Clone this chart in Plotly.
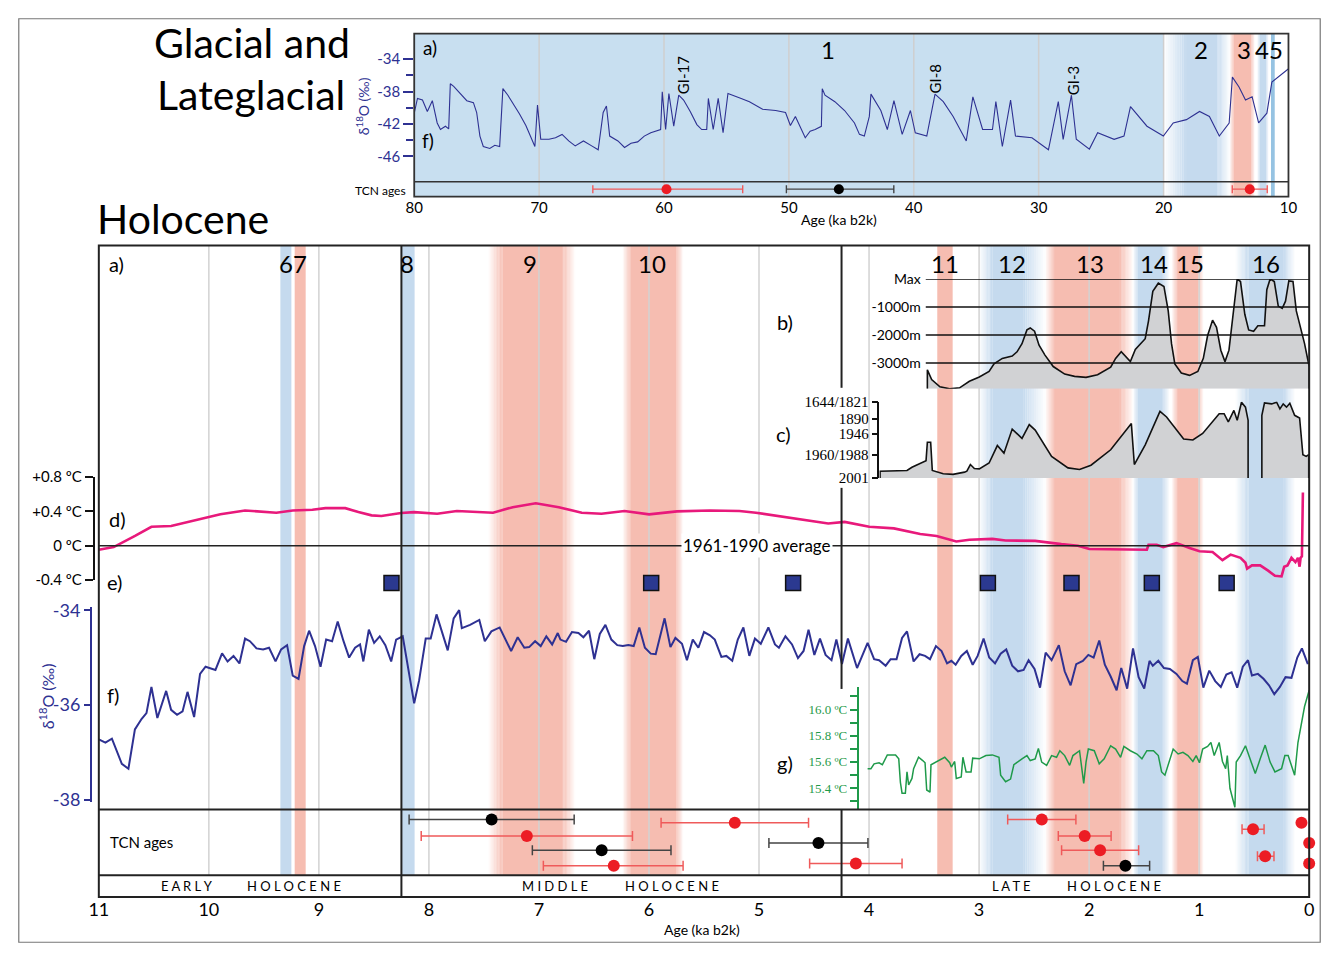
import plotly.graph_objects as go

# ======================= DATA =======================
# --- Glacial / Lateglacial panel: f) delta18O (permil) vs age (ka b2k)
gl_age = [80.00, 79.74, 79.34, 78.95, 78.55, 78.16, 77.90, 77.50, 77.24, 77.11,
          76.84, 76.32, 75.79, 75.26, 75.00, 74.74, 74.47, 73.95, 73.55, 73.16,
          72.90, 72.50, 71.98, 71.58, 71.06, 70.53, 70.34, 70.13, 69.87, 69.21,
          68.69, 68.16, 67.63, 67.11, 66.45, 65.79, 65.27, 64.87, 64.61, 64.35,
          63.69, 63.16, 62.64, 62.11, 61.58, 61.06, 60.66, 60.27, 60.14, 59.87,
          59.61, 59.22, 58.82, 58.43, 57.90, 57.37, 56.98, 56.58, 56.45, 56.06,
          55.66, 55.27, 54.88, 54.48, 53.82, 53.16, 52.11, 51.06, 50.27, 49.88,
          49.48, 48.69, 48.30, 47.90, 47.40, 47.33, 47.11, 46.32, 45.54, 44.75,
          44.35, 43.96, 43.56, 43.43, 42.64, 42.12, 41.59, 40.93, 40.27, 39.88,
          38.96, 38.30, 37.64, 36.85, 35.80, 35.27, 34.49, 33.70, 33.43, 32.91,
          32.25, 31.86, 30.54, 29.22, 28.43, 28.04, 27.38, 26.99, 25.94, 25.28,
          23.96, 23.17, 22.65, 21.33, 20.02, 19.23, 18.17, 17.12, 16.33, 15.54,
          14.75, 14.49, 13.96, 13.44, 12.91, 12.39, 11.73, 11.33, 10.81, 10.02]
gl_d18o = [-40.67, -38.85, -39.05, -40.46, -39.13, -41.88, -42.69, -42.28, -42.61, -37.03,
           -37.35, -38.24, -39.13, -39.37, -40.59, -43.50, -44.79, -45.03, -44.63, -44.79,
           -37.64, -38.45, -39.66, -40.75, -42.20, -44.10, -44.79, -39.66, -43.90, -43.90,
           -43.70, -43.29, -44.10, -44.71, -44.10, -44.71, -45.19, -40.59, -39.78, -43.50,
           -44.10, -44.91, -44.38, -44.22, -43.50, -43.09, -42.89, -42.69, -38.04, -42.69,
           -38.24, -42.28, -38.45, -39.05, -40.46, -42.08, -42.69, -42.69, -38.85, -42.69,
           -38.85, -43.09, -38.24, -38.45, -38.85, -39.25, -40.18, -40.34, -40.59, -42.20,
           -41.07, -43.70, -42.89, -42.69, -42.30, -37.64, -38.45, -39.25, -40.34, -41.88,
           -43.29, -43.50, -41.07, -38.32, -40.34, -42.69, -39.13, -43.29, -40.34, -43.09,
           -43.50, -38.32, -39.25, -41.07, -44.10, -38.65, -42.69, -42.69, -39.25, -44.79,
           -39.05, -43.50, -43.70, -45.19, -39.25, -43.90, -38.45, -43.90, -45.11, -43.09,
           -43.90, -43.50, -39.86, -42.28, -43.50, -41.88, -41.47, -40.46, -41.07, -43.50,
           -41.88, -36.22, -37.43, -39.05, -38.65, -41.88, -40.67, -36.83, -36.22, -35.21]
gl_ticks = [80, 70, 60, 50, 40, 30, 20, 10]
gl_grid = [70, 60, 50, 40, 30, 20]
gl_yticks = [-34, -38, -42, -46]
gl_yticktext = ['-34', '-38', '-42', '-46']
gl_yminor = [-36, -40, -44]
gl_tcn_age = [59.8, 46.0, 13.1]
gl_tcn_older = [5.9, 4.2, 1.4]
gl_tcn_younger = [6.1, 4.4, 1.4]
gl_tcn_kind = ['red', 'black', 'red']
# (label, older, younger, kind, fade_old, fade_young)
gl_bands = [('1', 80.0, 20.0, 'bg', 0, 0),
            ('2', 20.0, 14.7, 'cold', 1.8, 1.0),
            ('3', 14.7, 12.7, 'warm', 0.3, 0.3),
            ('4', 12.5, 11.6, 'cold', 0.2, 0.2),
            ('5', 11.4, 11.1, 'cold5', 0, 0)]
gl_label_age = [46.85, 17.0, 13.6, 12.12, 11.02]
gi_age = [58.45, 38.33, 27.3]
gi_text = ['GI-17', 'GI-8', 'GI-3']

# --- Holocene f) delta18O
ho_age = [11.000, 10.940, 10.881, 10.791, 10.731, 10.672, 10.612, 10.567, 10.522, 10.468,
          10.388, 10.343, 10.289, 10.239, 10.194, 10.134, 10.080, 10.030, 9.940, 9.880,
          9.830, 9.776, 9.722, 9.671, 9.627, 9.567, 9.507, 9.453, 9.394, 9.343,
          9.289, 9.238, 9.185, 9.134, 9.089, 9.035, 8.985, 8.934, 8.880, 8.829,
          8.776, 8.725, 8.671, 8.626, 8.596, 8.546, 8.498, 8.447, 8.396, 8.343,
          8.298, 8.238, 8.134, 8.089, 8.029, 7.984, 7.931, 7.829, 7.775, 7.725,
          7.701, 7.626, 7.542, 7.492, 7.432, 7.357, 7.253, 7.193, 7.133, 7.089,
          7.035, 6.984, 6.933, 6.880, 6.829, 6.805, 6.754, 6.700, 6.641, 6.596,
          6.545, 6.497, 6.447, 6.396, 6.342, 6.288, 6.238, 6.187, 6.139, 6.088,
          6.037, 5.984, 5.939, 5.858, 5.805, 5.760, 5.700, 5.655, 5.602, 5.551,
          5.500, 5.446, 5.402, 5.342, 5.297, 5.243, 5.193, 5.142, 5.088, 5.037,
          4.984, 4.915, 4.855, 4.819, 4.760, 4.700, 4.646, 4.595, 4.550, 4.497,
          4.446, 4.395, 4.341, 4.297, 4.246, 4.192, 4.109, 4.013, 3.954, 3.909,
          3.849, 3.804, 3.750, 3.700, 3.655, 3.595, 3.541, 3.491, 3.446, 3.392,
          3.341, 3.291, 3.252, 3.213, 3.162, 3.111, 3.058, 3.013, 2.959, 2.908,
          2.855, 2.804, 2.753, 2.699, 2.646, 2.595, 2.550, 2.496, 2.446, 2.395,
          2.341, 2.275, 2.222, 2.168, 2.117, 2.057, 2.007, 1.959, 1.908, 1.857,
          1.804, 1.750, 1.708, 1.654, 1.601, 1.550, 1.499, 1.451, 1.421, 1.371,
          1.320, 1.266, 1.206, 1.153, 1.111, 1.057, 1.012, 0.962, 0.908, 0.854,
          0.803, 0.753, 0.705, 0.654, 0.603, 0.556, 0.520, 0.466, 0.415, 0.365,
          0.317, 0.266, 0.215, 0.161, 0.108, 0.066, 0.012]
ho_d18o = [-36.722, -36.791, -36.708, -37.240, -37.343, -36.514, -36.293, -36.169, -35.616, -36.273,
           -35.699, -36.100, -36.203, -36.134, -35.720, -36.252, -35.340, -35.188, -35.257, -34.905,
           -35.077, -34.960, -35.119, -34.594, -34.649, -34.801, -34.822, -34.787, -35.077, -34.822,
           -34.732, -35.375, -35.444, -34.753, -34.428, -34.753, -35.188, -34.615, -34.649, -34.235,
           -34.649, -34.995, -34.787, -34.718, -35.077, -34.407, -34.684, -34.546, -34.732, -35.077,
           -34.615, -34.546,
           -35.962, -35.478, -34.594, -34.594, -34.083, -34.843, -34.166, -33.993,
           -34.373, -34.304, -34.200, -34.649, -34.442, -34.359, -34.856, -34.566, -34.787, -34.774,
           -34.649, -34.753, -34.546, -34.718, -34.477, -34.615, -34.663, -34.456, -34.477, -34.566,
           -34.428, -35.029, -34.497, -34.304, -34.615, -34.732, -34.753, -34.732, -34.753, -34.359,
           -34.787, -34.912, -34.925, -34.166, -34.774, -34.580, -34.704, -35.050, -34.615, -34.787,
           -34.456, -34.525, -34.615, -34.981, -34.960, -35.064, -34.615, -34.359, -34.960, -34.594,
           -34.704, -34.359, -34.718, -34.787, -34.546, -34.718, -35.008, -34.856, -34.407, -34.939,
           -34.594, -34.939, -35.050, -34.615, -35.133, -34.594, -35.216, -34.684,
           -35.029, -35.050, -35.167, -35.029, -35.029, -34.580, -34.442, -35.078, -34.925, -34.960,
           -35.029, -34.753,
           -34.856, -35.119, -35.064, -35.147, -34.960, -34.856, -35.147, -34.960, -34.594, -34.995,
           -35.119, -34.912, -34.822, -35.167, -35.285, -35.257, -35.050, -35.236, -35.630, -34.891,
           -35.050, -34.732, -35.285, -35.582, -35.133, -35.064, -34.939, -34.995, -34.635, -35.147,
           -35.395, -35.686, -35.216, -35.651, -34.801, -35.409, -35.651, -35.064, -35.167, -35.064,
           -35.216, -35.236, -35.340, -35.492, -35.547, -35.050, -34.981, -35.630, -35.271, -35.492,
           -35.616, -35.354, -35.305, -35.630, -35.188, -35.050, -35.375, -35.340, -35.444, -35.582,
           -35.768, -35.616, -35.409, -35.423, -34.995, -34.801, -35.133]
ho_yticks = [-34, -36, -38]
ho_yticktext = ['-34', '-36', '-38']

# --- d) temperature anomaly relative to 1961-1990 (deg C)
temp_age = [11.000, 10.865, 10.671, 10.522, 10.343, 10.134, 9.895, 9.671, 9.567, 9.387,
            9.238, 9.059, 8.940, 8.760, 8.641, 8.521, 8.432, 8.253, 8.134, 7.925,
            7.746, 7.417, 7.238, 7.029, 6.820, 6.611, 6.432, 6.223, 5.999, 5.745,
            5.446, 5.178, 5.028, 4.730, 4.371, 4.222, 3.998, 3.774, 3.535, 3.386,
            3.207, 3.088, 2.879, 2.759, 2.490, 2.252, 2.102, 1.998, 1.714, 1.475,
            1.460, 1.386, 1.326, 1.206, 1.087, 0.997, 0.878, 0.788, 0.714, 0.624,
            0.579, 0.564, 0.520, 0.445, 0.370, 0.311, 0.251, 0.227, 0.197, 0.161,
            0.125, 0.102, 0.087, 0.078, 0.066, 0.057]
temp_anom = [-0.046, -0.016, 0.114, 0.221, 0.229, 0.290, 0.366, 0.411, 0.404, 0.385,
             0.411, 0.419, 0.438, 0.438, 0.392, 0.354, 0.347, 0.381, 0.392, 0.373,
             0.404, 0.385, 0.449, 0.495, 0.449, 0.385, 0.373, 0.404, 0.366, 0.400,
             0.411, 0.404, 0.385, 0.324, 0.259, 0.278, 0.221, 0.202, 0.137, 0.114,
             0.050, 0.069, 0.080, 0.061, 0.057, 0.019, 0.000, -0.038, -0.046, -0.046,
             0.011, 0.011, -0.015, 0.030, -0.027, -0.065, -0.072, -0.168, -0.103, -0.141,
             -0.198, -0.267, -0.229, -0.229, -0.293, -0.351, -0.358, -0.244, -0.229, -0.141,
             -0.191, -0.141, -0.244, -0.141, -0.122, 0.621]
temp_ticks = [-0.4, 0.0, 0.4, 0.8]
temp_ticktext = ['-0.4 ºC', '0 ºC', '+0.4 ºC', '+0.8 ºC']

# --- e) events
e_age = [8.34, 5.98, 4.69, 2.92, 2.16, 1.43, 0.75]

# --- b) glacier extent (m relative to max)
b_age = [3.470, 3.431, 3.356, 3.267, 3.177, 3.088, 2.998, 2.909, 2.864, 2.789,
         2.699, 2.655, 2.610, 2.565, 2.535, 2.496, 2.455, 2.401, 2.326, 2.222,
         2.132, 2.028, 1.923, 1.804, 1.759, 1.708, 1.669, 1.625, 1.580, 1.535,
         1.490, 1.460, 1.421, 1.371, 1.320, 1.281, 1.251, 1.221, 1.162, 1.087,
         1.012, 0.962, 0.923, 0.878, 0.842, 0.803, 0.765, 0.729, 0.690, 0.654,
         0.624, 0.585, 0.550, 0.505, 0.466, 0.406, 0.385, 0.355, 0.317, 0.281,
         0.245, 0.215, 0.185, 0.147, 0.117, 0.072, 0.042, 0.000]
b_depth = [-3241, -3590, -3847, -3917, -3882, -3649, -3497, -3299, -3031, -2833,
           -2751, -2599, -2308, -1818, -1749, -1865, -2366, -2716, -3124, -3392,
           -3474, -3509, -3415, -3147, -2833, -2599, -2751, -2949, -2518, -2308,
           -2133, -1492, -443, -152, -268, -1142, -2308, -3031, -3357, -3439,
           -3299, -2833, -2017, -1469, -1725, -2541, -2949, -2541, -1201, 0,
           -93, -1259, -1818, -1865, -1667, -1667, -385, 0, -93, -968,
           -1049, -793, -70, -93, -1142, -1865, -2308, -3124]
b_levels = [0, -1000, -2000, -3000]
b_level_text = ['Max', '-1000m', '-2000m', '-3000m']
b_floor = -3917

# --- c) glacier extent by dated year (relative height units)
c1_age = [3.900, 3.655, 3.610, 3.482, 3.470, 3.440, 3.425, 3.326, 3.237, 3.132,
          3.111, 3.079, 3.043, 2.998, 2.909, 2.834, 2.774, 2.699, 2.610, 2.544,
          2.490, 2.341, 2.192, 2.087, 1.983, 1.804, 1.616, 1.589, 1.490, 1.356,
          1.296, 1.141, 1.057, 0.968, 0.818, 0.773, 0.735, 0.684, 0.654, 0.615,
          0.579, 0.555]
c1_ext = [7.0, 7.7, 11.0, 17.7, 36.3, 36.3, 7.7, 4.3, 3.7, 6.0,
          7.0, 13.7, 9.7, 9.3, 15.3, 33.0, 25.3, 49.7, 40.3, 54.3,
          48.7, 22.0, 10.3, 8.7, 13.0, 28.7, 55.3, 13.7, 33.7, 67.7,
          62.0, 39.7, 38.7, 45.3, 65.3, 65.3, 57.0, 68.7, 58.7, 77.0,
          72.0, 58.7]
c2_age = [0.430, 0.406, 0.341, 0.296, 0.266, 0.236, 0.206, 0.176, 0.132, 0.087,
          0.057, 0.027, 0.004]
c2_ext = [63.7, 76.3, 75.3, 77.0, 70.3, 75.3, 72.0, 76.0, 63.7, 61.0,
          23.7, 22.0, 23.7]
c_tick_vals = [0, 23.5, 45, 60, 77.7]
c_tick_text = ['2001', '1960/1988', '1946', '1890', '1644/1821']

# --- g) temperature (deg C)
g_age = [4.013, 3.983, 3.954, 3.909, 3.879, 3.834, 3.759, 3.730, 3.715, 3.700,
         3.670, 3.655, 3.640, 3.610, 3.595, 3.550, 3.512, 3.491, 3.476, 3.446,
         3.437, 3.386, 3.341, 3.312, 3.267, 3.252, 3.222, 3.207, 3.162, 3.147,
         3.118, 3.073, 3.058, 2.998, 2.938, 2.879, 2.819, 2.804, 2.759, 2.714,
         2.684, 2.655, 2.610, 2.565, 2.535, 2.490, 2.461, 2.431, 2.386, 2.341,
         2.296, 2.266, 2.222, 2.177, 2.147, 2.087, 2.066, 2.049, 2.028, 2.007,
         1.953, 1.908, 1.863, 1.804, 1.759, 1.714, 1.684, 1.625, 1.565, 1.520,
         1.475, 1.415, 1.371, 1.341, 1.311, 1.281, 1.236, 1.191, 1.147, 1.102,
         1.057, 1.027, 0.997, 0.968, 0.923, 0.893, 0.863, 0.818, 0.788, 0.759,
         0.744, 0.720, 0.699, 0.675, 0.663, 0.624, 0.579, 0.535, 0.490, 0.445,
         0.400, 0.355, 0.311, 0.251, 0.221, 0.191, 0.132, 0.102, 0.072, 0.042,
         0.000]
g_temp = [15.548, 15.548, 15.585, 15.593, 15.578, 15.653, 15.653, 15.623, 15.443, 15.360,
          15.360, 15.523, 15.423, 15.473, 15.548, 15.635, 15.610, 15.593, 15.385, 15.368,
          15.578, 15.603, 15.623, 15.635, 15.593, 15.560, 15.603, 15.473, 15.485, 15.635,
          15.523, 15.523, 15.628, 15.623, 15.648, 15.653, 15.635, 15.498, 15.448, 15.468,
          15.578, 15.598, 15.623, 15.648, 15.610, 15.623, 15.703, 15.598, 15.573, 15.648,
          15.635, 15.685, 15.648, 15.573, 15.648, 15.685, 15.548, 15.435, 15.598, 15.698,
          15.685, 15.585, 15.623, 15.723, 15.698, 15.635, 15.718, 15.685, 15.660, 15.623,
          15.685, 15.685, 15.648, 15.523, 15.498, 15.573, 15.698, 15.660, 15.673, 15.648,
          15.603, 15.648, 15.593, 15.698, 15.718, 15.748, 15.648, 15.748, 15.603, 15.548,
          15.648, 15.398, 15.323, 15.253, 15.598, 15.648, 15.723, 15.623, 15.510, 15.623,
          15.728, 15.598, 15.523, 15.548, 15.648, 15.648, 15.498, 15.748, 15.873, 16.023,
          16.148]
g_ticks = [15.4, 15.6, 15.8, 16.0]
g_ticktext = ['15.4 ºC', '15.6 ºC', '15.8 ºC', '16.0 ºC']
g_minor = [15.3, 15.5, 15.7, 15.9, 16.1]

# --- Holocene TCN ages (ka), errors, lanes within the row (0 = top, 1 = bottom)
tcn_age = [7.43, 7.11, 6.43, 6.32, 5.22, 4.46, 4.12, 2.43, 2.04, 1.90, 1.67, 0.51, 0.40, 0.07, 0.0, 0.0]
tcn_older = [0.75, 0.96, 0.63, 0.64, 0.67, 0.45, 0.42, 0.31, 0.24, 0.35, 0.20, 0.10, 0.07, 0, 0, 0]
tcn_younger = [0.75, 0.96, 0.63, 0.63, 0.67, 0.45, 0.42, 0.31, 0.24, 0.35, 0.22, 0.10, 0.08, 0, 0, 0]
tcn_lane = [0.15, 0.40, 0.62, 0.855, 0.20, 0.51, 0.82, 0.15, 0.40, 0.62, 0.855, 0.30, 0.71, 0.20, 0.51, 0.82]
tcn_kind = ['black', 'red', 'black', 'red', 'red', 'black', 'red', 'red', 'red', 'red', 'black',
            'red', 'red', 'red', 'red', 'red']

# --- Holocene climate event bands
ho_bands = [('6', 9.35, 9.25, 'cold', 0, 0),
            ('7', 9.22, 9.12, 'warm', 0, 0),
            ('8', 8.25, 8.13, 'cold', 0, 0),
            ('9', 7.46, 6.67, 'warm', 0.13, 0.12),
            ('10', 6.24, 5.69, 'warm', 0.07, 0.06),
            ('11', 3.38, 3.24, 'warm', 0, 0),
            ('12', 3.00, 2.40, 'cold', 0.12, 0.20),
            ('13', 2.40, 1.60, 'warm', 0.09, 0.12),
            ('14', 1.60, 1.27, 'cold', 0.04, 0.06),
            ('15', 1.25, 0.96, 'warm', 0.05, 0.05),
            ('16', 0.67, 0.13, 'cold', 0.12, 0.10)]
ho_label_age = [9.30, 9.17, 8.20, 7.08, 5.97, 3.31, 2.70, 1.99, 1.41, 1.08, 0.39]
ho_ticks = [11, 10, 9, 8, 7, 6, 5, 4, 3, 2, 1, 0]
ho_grid = [10, 9, 8, 7, 6, 5, 4, 3, 2, 1]
period_bounds = [8.25, 4.25]

# ======================= STYLE / LAYOUT =======================
# The page has an 8 px body margin; the figure is sized so the page is exactly 1338 x 959.
OX, OY = 8, 8
W, H = 1322, 943
def px(x): return (x - OX) / W
def py(y): return 1 - (y - OY) / H

FONT = "Lato, 'Open Sans', sans-serif"
SERIF = "'Liberation Serif', 'DejaVu Serif', serif"
NAVY = '#2e3192'
MAGENTA = '#e8197b'
GREEN = '#1f9a4a'
RED = '#ec1c24'
BAND_RGB = {'cold': (197, 218, 238), 'warm': (246, 189, 177), 'bg': (200, 223, 240),
            'cold5': (150, 195, 226)}

HX0, HX1, HAGE = 90, 1318, 11.0
def ho_age_at(pxl): return HAGE - (pxl - HX0) * HAGE / (HX1 - HX0)

shapes = []
annotations = []

def band_shapes(older, younger, rgb, fade_old, fade_young, xref, y0, y1, n=10):
    r, g, b = rgb
    out = [dict(type='rect', xref=xref, yref='paper', x0=older - fade_old, x1=younger + fade_young,
                y0=y0, y1=y1, fillcolor=f'rgb({r},{g},{b})', line=dict(width=0), layer='below')]
    for i in range(n):
        a = (i + 0.5) / n
        if fade_old > 0:
            out.append(dict(type='rect', xref=xref, yref='paper',
                            x0=older - fade_old * i / n, x1=older - fade_old * (i + 1) / n,
                            y0=y0, y1=y1, fillcolor=f'rgba({r},{g},{b},{a:.3f})',
                            line=dict(width=0), layer='below'))
        if fade_young > 0:
            out.append(dict(type='rect', xref=xref, yref='paper',
                            x0=younger + fade_young * i / n, x1=younger + fade_young * (i + 1) / n,
                            y0=y0, y1=y1, fillcolor=f'rgba({r},{g},{b},{a:.3f})',
                            line=dict(width=0), layer='below'))
    return out

# ---- top panel bands, grid, frame
for (lab, o, yng, kind, fo, fy) in gl_bands:
    shapes += band_shapes(o, yng, BAND_RGB[kind], fo, fy, 'x', py(190), py(24))
for gx in gl_grid:
    shapes.append(dict(type='line', xref='x', yref='paper', x0=gx, x1=gx, y0=py(190), y1=py(24),
                       line=dict(color='#cfcfcf', width=1.5), layer='below'))
shapes.append(dict(type='rect', xref='x domain', yref='paper', x0=0, x1=1, y0=py(190), y1=py(24),
                   line=dict(color='#333', width=1.8), layer='above'))
shapes.append(dict(type='line', xref='x domain', yref='paper', x0=0, x1=1, y0=py(175), y1=py(175),
                   line=dict(color='#333', width=1.5), layer='above'))

# ---- Holocene bands, grid, frame
for (lab, o, yng, kind, fo, fy) in ho_bands:
    shapes += band_shapes(o, yng, BAND_RGB[kind], fo, fy, 'x2', py(882), py(240))
for gx in ho_grid:
    shapes.append(dict(type='line', xref='x2', yref='paper', x0=gx, x1=gx, y0=py(882), y1=py(240),
                       line=dict(color='#d2d2d2', width=1.5), layer='below'))
shapes.append(dict(type='rect', xref='x2 domain', yref='paper', x0=0, x1=1, y0=py(904), y1=py(240),
                   line=dict(color='#222', width=2), layer='above'))
for yy in (815, 882):
    shapes.append(dict(type='line', xref='x2 domain', yref='paper', x0=0, x1=1, y0=py(yy), y1=py(yy),
                       line=dict(color='#222', width=2), layer='above'))
shapes.append(dict(type='line', xref='x2', yref='paper', x0=period_bounds[0], x1=period_bounds[0],
                   y0=py(904), y1=py(240), line=dict(color='#222', width=2), layer='above'))
for (ya, yb) in [(240, 385), (487, 692), (815, 904)]:
    shapes.append(dict(type='line', xref='x2', yref='paper', x0=period_bounds[1], x1=period_bounds[1],
                       y0=py(yb), y1=py(ya), line=dict(color='#222', width=2), layer='above'))
shapes.append(dict(type='line', xref='x2 domain', yref='y4', x0=0, x1=1, y0=0, y1=0,
                   line=dict(color='#222', width=1.6), layer='above'))
for lv in b_levels:
    shapes.append(dict(type='line', xref='x3 domain', yref='y6', x0=0, x1=1, y0=lv, y1=lv,
                       line=dict(color='#111', width=1.6), layer='above'))
# outer frame
shapes.append(dict(type='rect', xref='paper', yref='paper', x0=0.0006, x1=0.9994, y0=0.0008, y1=0.9992,
                   line=dict(color='#777', width=1.2), layer='above'))

fig = go.Figure()

fig.add_trace(go.Scatter(x=gl_age, y=gl_d18o, xaxis='x', yaxis='y', mode='lines',
                         line=dict(color=NAVY, width=1.1), hoverinfo='skip'))
for kind, col, ecol in [('red', RED, '#ef5a5a'), ('black', 'black', '#444')]:
    idx = [i for i, k in enumerate(gl_tcn_kind) if k == kind]
    fig.add_trace(go.Scatter(x=[gl_tcn_age[i] for i in idx], y=[0.5] * len(idx), xaxis='x', yaxis='y2',
                             mode='markers', marker=dict(color=col, size=10), cliponaxis=False,
                             error_x=dict(type='data', symmetric=False,
                                          array=[gl_tcn_older[i] for i in idx],
                                          arrayminus=[gl_tcn_younger[i] for i in idx],
                                          color=ecol, thickness=1.4, width=4),
                             hoverinfo='skip'))

fig.add_trace(go.Scatter(x=[b_age[0]] + b_age + [b_age[-1]], y=[b_floor] + b_depth + [b_floor],
                         xaxis='x3', yaxis='y6', mode='lines', fill='toself', fillcolor='#d1d2d4',
                         line=dict(color='#111', width=1.6), hoverinfo='skip'))
for ca, ce in [(c1_age, c1_ext), (c2_age, c2_ext)]:
    fig.add_trace(go.Scatter(x=[ca[0]] + ca + [ca[-1]], y=[0] + ce + [0], xaxis='x4', yaxis='y7',
                             mode='lines', fill='toself', fillcolor='#d1d2d4',
                             line=dict(color='#111', width=1.6), hoverinfo='skip'))

fig.add_trace(go.Scatter(x=temp_age, y=temp_anom, xaxis='x2', yaxis='y4', mode='lines',
                         line=dict(color=MAGENTA, width=2.6), hoverinfo='skip'))
fig.add_trace(go.Scatter(x=e_age, y=[0.5] * len(e_age), xaxis='x2', yaxis='y5', mode='markers',
                         marker=dict(symbol='square', size=15, color='#2b3990',
                                     line=dict(color='#111', width=1.5)),
                         cliponaxis=False, hoverinfo='skip'))
fig.add_trace(go.Scatter(x=ho_age, y=ho_d18o, xaxis='x2', yaxis='y3', mode='lines',
                         line=dict(color=NAVY, width=2), hoverinfo='skip'))
fig.add_trace(go.Scatter(x=g_age, y=g_temp, xaxis='x2', yaxis='y8', mode='lines',
                         line=dict(color=GREEN, width=1.5), hoverinfo='skip'))
for kind, col, ecol in [('red', RED, '#ef5a5a'), ('black', 'black', '#444')]:
    idx = [i for i, k in enumerate(tcn_kind) if k == kind]
    fig.add_trace(go.Scatter(x=[tcn_age[i] for i in idx], y=[tcn_lane[i] for i in idx],
                             xaxis='x2', yaxis='y9', mode='markers',
                             marker=dict(color=col, size=12), cliponaxis=False,
                             error_x=dict(type='data', symmetric=False,
                                          array=[tcn_older[i] for i in idx],
                                          arrayminus=[tcn_younger[i] for i in idx],
                                          color=ecol, thickness=1.5, width=5),
                             hoverinfo='skip'))

# ======================= ANNOTATIONS =======================
def ann(text, x, y, size=14, color='black', xanchor='center', yanchor='middle', family=FONT, **kw):
    d = dict(text=text, x=px(x), y=py(y), xref='paper', yref='paper', showarrow=False,
             font=dict(size=size, color=color, family=family), xanchor=xanchor, yanchor=yanchor)
    d.update(kw)
    annotations.append(d)

def data_ann(text, xval, xref, y, size=24, angle=0):
    annotations.append(dict(text=text, x=xval, y=py(y), xref=xref, yref='paper', showarrow=False,
                            xanchor='center', yanchor='middle', textangle=angle,
                            font=dict(size=size, family=FONT, color='black')))

ann('Glacial and', 245, 33, size=41)
ann('Lateglacial', 244, 86, size=41)
ann('Holocene', 175, 212, size=41)

ann('a)', 426, 38, size=19)
ann('f)', 424, 133, size=19)
ann('TCN ages', 404, 184, size=12, xanchor='right')
ann('δ<sup>18</sup>O (‰)', 357, 98, size=14, color=NAVY, textangle=-90)
ann('Age (ka b2k)', 841, 213, size=14)
for lab_age, band in zip(gl_label_age, gl_bands):
    data_ann(band[0], lab_age, 'x', 40, size=24)
for ga, gt, gy in zip(gi_age, gi_text, [66, 70, 72]):
    data_ann(gt, ga, 'x', gy, size=15, angle=-90)

ann('a)', 108, 259, size=20)
ann('b)', 786, 318, size=20)
ann('c)', 785, 432, size=20)
ann('d)', 109, 519, size=20)
ann('e)', 106, 583, size=20)
ann('f)', 104, 698, size=20)
ann('g)', 786, 767, size=20)
ann('TCN ages', 99, 848, size=15, xanchor='left')
ann('δ<sup>18</sup>O (‰)', 37, 700, size=16, color=NAVY, textangle=-90)
ann('1961-1990 average', 758, 546, size=17, bgcolor='white', borderpad=1)
ann('Age (ka b2k)', 702, 937, size=14)
for lab_age, band in zip(ho_label_age, ho_bands):
    data_ann(band[0], lab_age, 'x2', 258, size=24)
ann('E A R L Y', 179, 893, size=13)
ann('H O L O C E N E', 288, 893, size=13)
ann('M I D D L E', 553, 893, size=13)
ann('H O L O C E N E', 672, 893, size=13)
ann('L A T E', 1016, 893, size=13)
ann('H O L O C E N E', 1120, 893, size=13)

# ======================= AXES =======================
x3_lo = ho_age_at(929)
x4_lo = ho_age_at(882)
g_lo = 16.0 - (814 - 713) / 133.3
g_hi = 16.0 + (713 - 690) / 133.3
f_hi = -34 + (612 - 608) / 48.25
f_lo = -38 - (807 - 805) / 48.25

noax = dict(showgrid=False, zeroline=False, showline=False)

fig.update_layout(
    width=W, height=H, margin=dict(l=0, r=0, t=0, b=0),
    paper_bgcolor='white', plot_bgcolor='rgba(0,0,0,0)', showlegend=False,
    font=dict(family=FONT, color='black', size=14),
    shapes=shapes, annotations=annotations,
    xaxis=dict(domain=[px(410), px(1297)], range=[80, 10], anchor='y2', tickvals=gl_ticks,
               ticks='', tickfont=dict(size=15), **noax),
    yaxis=dict(domain=[py(175), py(24)], range=[-49.15, -30.85], anchor='x',
               tickvals=gl_yticks, ticktext=gl_yticktext, ticks='outside', ticklen=10, tickwidth=1.6,
               tickcolor=NAVY, tickfont=dict(size=15, color=NAVY),
               minor=dict(tickvals=gl_yminor, ticks='outside', ticklen=7, tickwidth=1.6,
                          tickcolor=NAVY), **noax),
    yaxis2=dict(domain=[py(190), py(175)], range=[0, 1], anchor='x', visible=False),
    xaxis2=dict(domain=[px(HX0), px(HX1)], range=[HAGE, 0], anchor='free', position=py(904),
                tickvals=ho_ticks, ticks='', tickfont=dict(size=18), **noax),
    yaxis3=dict(domain=[py(807), py(608)], range=[f_lo, f_hi], anchor='free', position=px(82),
                tickvals=ho_yticks, ticktext=ho_yticktext, ticks='outside', ticklen=6, tickwidth=1.8,
                tickcolor=NAVY, tickfont=dict(size=18, color=NAVY), showline=True, linecolor=NAVY,
                linewidth=1.8, showgrid=False, zeroline=False),
    yaxis4=dict(domain=[py(581), py(476)], range=[-0.4, 0.8], anchor='free', position=px(85),
                tickvals=temp_ticks, ticktext=temp_ticktext, ticks='outside', ticklen=8, tickwidth=2.2,
                tickcolor='#111', tickfont=dict(size=15), showline=True, linecolor='#111', linewidth=2.2,
                showgrid=False, zeroline=False),
    yaxis5=dict(domain=[py(600), py(568)], range=[0, 1], anchor='x2', visible=False),
    xaxis3=dict(domain=[px(929), px(HX1)], range=[x3_lo, 0], anchor='y6', visible=False),
    yaxis6=dict(domain=[py(386), py(274)], range=[b_floor, 0], anchor='x3', tickvals=b_levels,
                ticktext=b_level_text, ticks='', tickfont=dict(size=14), ticklabelstandoff=4, **noax),
    xaxis4=dict(domain=[px(882), px(HX1)], range=[x4_lo, 0], anchor='y7', visible=False),
    yaxis7=dict(domain=[py(477), py(399)], range=[0, 77.7], anchor='x4', tickvals=c_tick_vals,
                ticktext=c_tick_text, ticks='outside', ticklen=6, tickwidth=1.6, tickcolor='#111',
                tickfont=dict(size=15, family=SERIF), showline=True, linecolor='#111', linewidth=1.6,
                showgrid=False, zeroline=False),
    yaxis8=dict(domain=[py(814), py(690)], range=[g_lo, g_hi], anchor='free', position=px(860),
                tickvals=g_ticks, ticktext=g_ticktext, ticks='outside', ticklen=7, tickwidth=1.6,
                tickcolor=GREEN, tickfont=dict(size=13, color=GREEN, family=SERIF), showline=True,
                linecolor=GREEN, linewidth=1.8, showgrid=False, zeroline=False,
                minor=dict(tickvals=g_minor, ticks='outside', ticklen=7, tickwidth=1.6, tickcolor=GREEN)),
    yaxis9=dict(domain=[py(882), py(815)], range=[1, 0], anchor='x2', visible=False),
)

fig.write_html("out.html", config={'displayModeBar': False})
